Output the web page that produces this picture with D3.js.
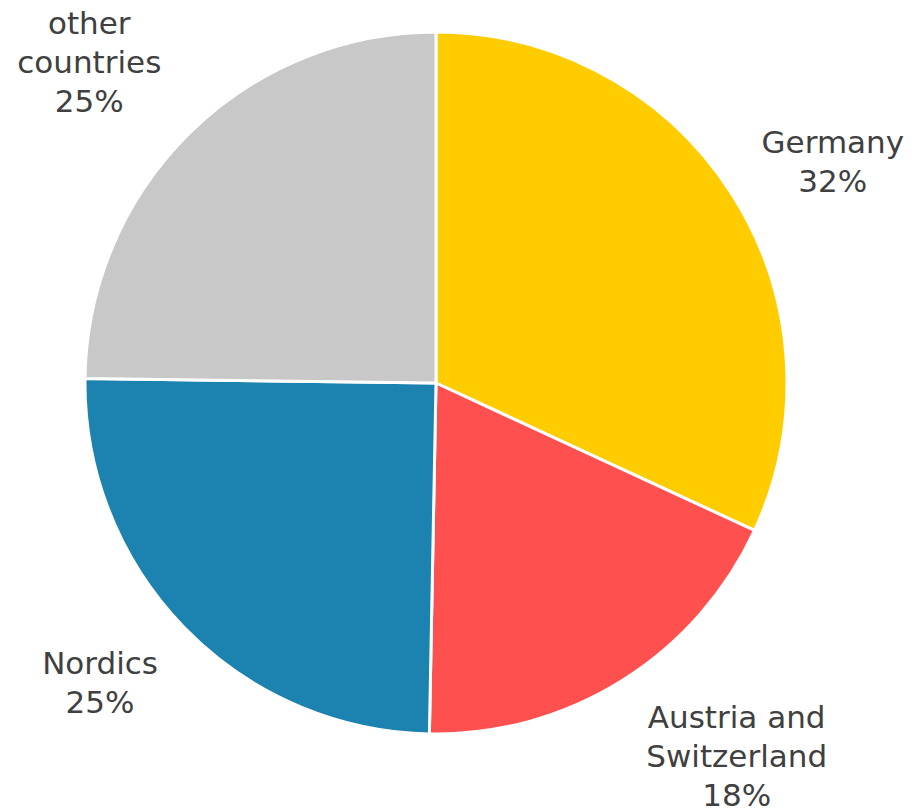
<!DOCTYPE html>
<html lang="en">
<head>
    <meta charset="UTF-8">
    <title>Share by region</title>
    <script src="https://cdn.jsdelivr.net/npm/d3@7"></script>
    <style>
        body { margin: 0; background: #fff; }
        .label { font-family: "DejaVu Sans", sans-serif; font-size: 31px; fill: #404040; text-anchor: middle; }
    </style>
</head>
<body>
<svg id="chart" width="914" height="812"></svg>
<script>
    // slice data
    const regions = ["Germany", "Austria and Switzerland", "Nordics", "other countries"];
    const labelLines = [["Germany"], ["Austria and", "Switzerland"], ["Nordics"], ["other", "countries"]];
    const shares = [31.9, 18.4, 24.9, 24.8];
    const colors = ["#FFCC00", "#FF5050", "#1C82B0", "#C8C8C8"];

    const cx = 436, cy = 383, radius = 351, labelRadius = 465;
    const lineHeight = 39;
    // small nudges so labels sit where the original placed them
    const nudges = [[5, 28], [54, -22], [-2, -25], [-20, 9]];

    const svg = d3.select("#chart");
    const g = svg.append("g").attr("transform", `translate(${cx},${cy})`);

    const data = regions.map((r, i) => ({ name: r, lines: labelLines[i], value: shares[i], color: colors[i], i: i }));

    const pie = d3.pie().sort(null).value(d => d.value);
    const arc = d3.arc().innerRadius(0).outerRadius(radius);
    const labelArc = d3.arc().innerRadius(labelRadius).outerRadius(labelRadius);

    const arcs = pie(data);

    g.selectAll("path.slice")
        .data(arcs)
        .enter()
        .append("path")
        .attr("class", "slice")
        .attr("d", arc)
        .attr("fill", d => d.data.color)
        .attr("stroke", "#fff")
        .attr("stroke-width", 3)
        .attr("stroke-linejoin", "round");

    const labels = g.selectAll("text.label")
        .data(arcs)
        .enter()
        .append("text")
        .attr("class", "label")
        .attr("transform", d => {
            const c = labelArc.centroid(d);
            const n = nudges[d.data.i];
            return `translate(${c[0] + n[0]},${c[1] + n[1]})`;
        });

    labels.each(function(d) {
        const lines = d.data.lines.concat([Math.round(d.data.value) + "%"]);
        const t = d3.select(this);
        lines.forEach((line, k) => {
            t.append("tspan")
                .attr("x", 0)
                .attr("y", (k - (lines.length - 1) / 2) * lineHeight + 11.5)
                .text(line);
        });
    });
</script>
</body>
</html>
